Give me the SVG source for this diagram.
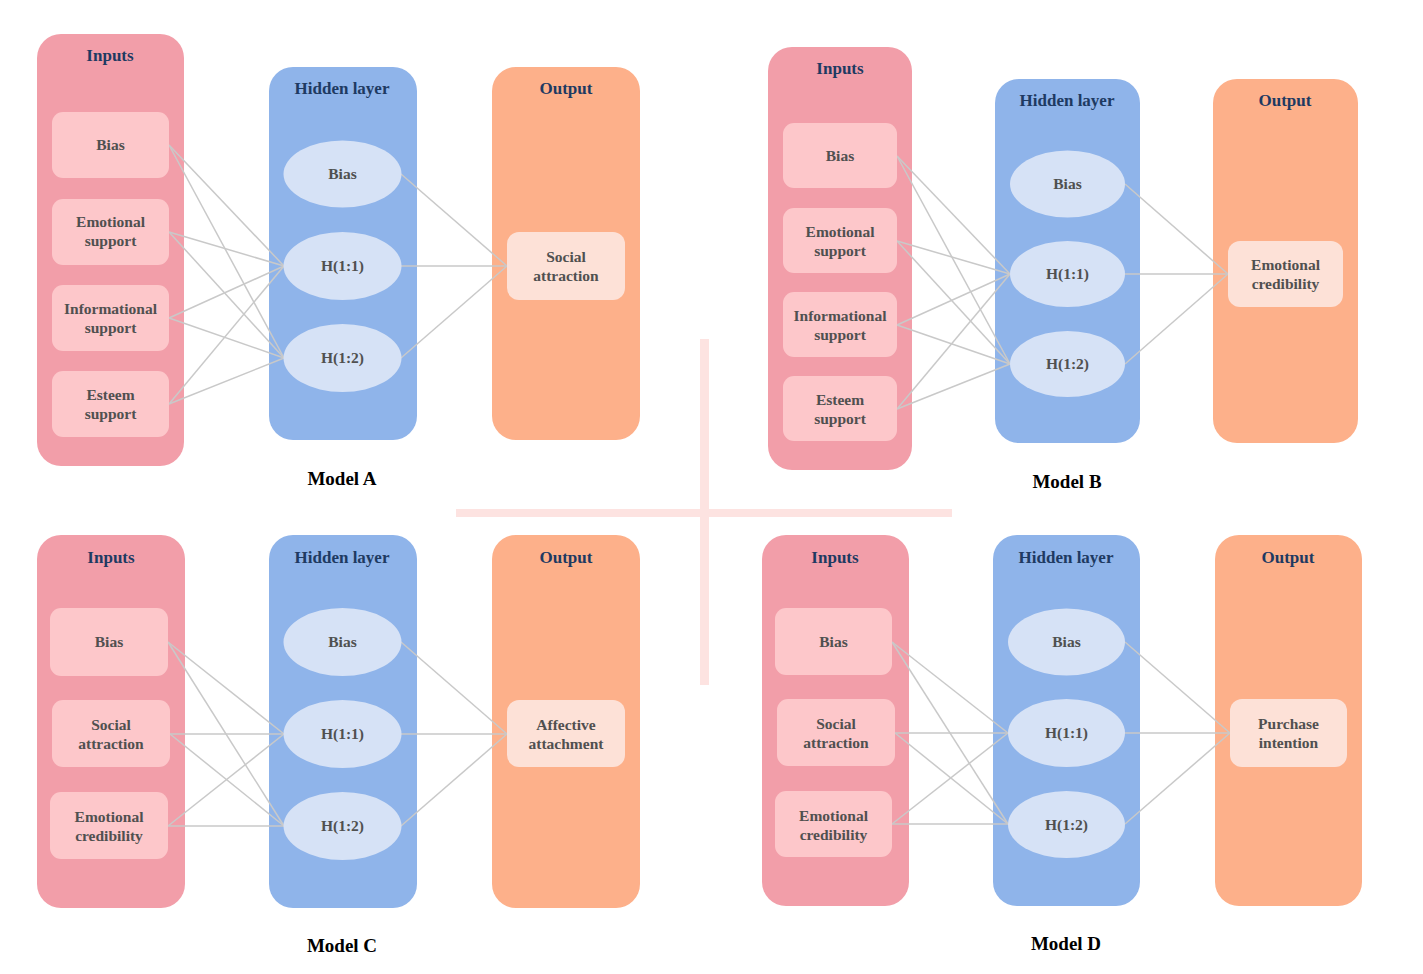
<svg xmlns="http://www.w3.org/2000/svg" width="1423" height="974" viewBox="0 0 1423 974">
<style>
.bg{fill:#ffffff}
.inC{fill:#f29ea9}
.hidC{fill:#8fb4ea}
.outC{fill:#fdb08a}
.inB{fill:#fdc7ca}
.ell{fill:#d6e2f6}
.outB{fill:#fde1d7}
.ttl{font-family:"Liberation Serif","Times New Roman",serif;font-weight:bold;font-size:17px;fill:#1e3a62;text-anchor:middle}
.lbl{font-family:"Liberation Serif","Times New Roman",serif;font-weight:bold;font-size:15.5px;fill:#505050;text-anchor:middle}
.mdl{font-family:"Liberation Serif","Times New Roman",serif;font-weight:bold;font-size:19px;fill:#000000;text-anchor:middle}
.cn{stroke:#c9c9c9;stroke-width:1.5;fill:none}
.cross{fill:#fde3e1}
</style>
<rect class="bg" x="0" y="0" width="1423" height="974"/>
<g id="divider">
<rect class="cross" x="700" y="339" width="9" height="346"/>
<rect class="cross" x="456" y="509" width="496" height="8"/>
</g>

<!-- Containers -->
<g id="modelA-inputs"><rect class="inC" x="37" y="34" width="147" height="432" rx="24"/><text class="ttl" x="110" y="61">Inputs</text></g>
<g id="modelA-hidden"><rect class="hidC" x="269" y="67" width="148" height="373" rx="24"/><text class="ttl" x="342" y="94">Hidden layer</text></g>
<g id="modelA-output"><rect class="outC" x="492" y="67" width="148" height="373" rx="24"/><text class="ttl" x="566" y="94">Output</text></g>

<g id="modelB-inputs"><rect class="inC" x="768" y="47" width="144" height="423" rx="24"/><text class="ttl" x="840" y="74">Inputs</text></g>
<g id="modelB-hidden"><rect class="hidC" x="995" y="79" width="145" height="364" rx="24"/><text class="ttl" x="1067" y="106">Hidden layer</text></g>
<g id="modelB-output"><rect class="outC" x="1213" y="79" width="145" height="364" rx="24"/><text class="ttl" x="1285" y="106">Output</text></g>

<g id="modelC-inputs"><rect class="inC" x="37" y="535" width="148" height="373" rx="24"/><text class="ttl" x="111" y="563">Inputs</text></g>
<g id="modelC-hidden"><rect class="hidC" x="269" y="535" width="148" height="373" rx="24"/><text class="ttl" x="342" y="563">Hidden layer</text></g>
<g id="modelC-output"><rect class="outC" x="492" y="535" width="148" height="373" rx="24"/><text class="ttl" x="566" y="563">Output</text></g>

<g id="modelD-inputs"><rect class="inC" x="762" y="535" width="147" height="371" rx="24"/><text class="ttl" x="835" y="563">Inputs</text></g>
<g id="modelD-hidden"><rect class="hidC" x="993" y="535" width="147" height="371" rx="24"/><text class="ttl" x="1066" y="563">Hidden layer</text></g>
<g id="modelD-output"><rect class="outC" x="1215" y="535" width="147" height="371" rx="24"/><text class="ttl" x="1288" y="563">Output</text></g>

<!-- Connectors -->
<g id="connectors">
<!-- Model A -->
<line class="cn" x1="169" y1="145" x2="284" y2="266"/>
<line class="cn" x1="169" y1="145" x2="284" y2="358"/>
<line class="cn" x1="169" y1="232" x2="284" y2="266"/>
<line class="cn" x1="169" y1="232" x2="284" y2="358"/>
<line class="cn" x1="169" y1="318" x2="284" y2="266"/>
<line class="cn" x1="169" y1="318" x2="284" y2="358"/>
<line class="cn" x1="169" y1="404" x2="284" y2="266"/>
<line class="cn" x1="169" y1="404" x2="284" y2="358"/>
<line class="cn" x1="401" y1="174" x2="507" y2="266"/>
<line class="cn" x1="401" y1="266" x2="507" y2="266"/>
<line class="cn" x1="401" y1="358" x2="507" y2="266"/>
<!-- Model B -->
<line class="cn" x1="897" y1="156" x2="1010" y2="274"/>
<line class="cn" x1="897" y1="156" x2="1010" y2="364"/>
<line class="cn" x1="897" y1="241" x2="1010" y2="274"/>
<line class="cn" x1="897" y1="241" x2="1010" y2="364"/>
<line class="cn" x1="897" y1="325" x2="1010" y2="274"/>
<line class="cn" x1="897" y1="325" x2="1010" y2="364"/>
<line class="cn" x1="897" y1="409" x2="1010" y2="274"/>
<line class="cn" x1="897" y1="409" x2="1010" y2="364"/>
<line class="cn" x1="1125" y1="184" x2="1228" y2="274"/>
<line class="cn" x1="1125" y1="274" x2="1228" y2="274"/>
<line class="cn" x1="1125" y1="364" x2="1228" y2="274"/>
<!-- Model C -->
<line class="cn" x1="168" y1="642" x2="284" y2="734"/>
<line class="cn" x1="168" y1="642" x2="284" y2="826"/>
<line class="cn" x1="170" y1="734" x2="284" y2="734"/>
<line class="cn" x1="170" y1="734" x2="284" y2="826"/>
<line class="cn" x1="168" y1="826" x2="284" y2="734"/>
<line class="cn" x1="168" y1="826" x2="284" y2="826"/>
<line class="cn" x1="401" y1="642" x2="507" y2="734"/>
<line class="cn" x1="401" y1="734" x2="507" y2="734"/>
<line class="cn" x1="401" y1="826" x2="507" y2="734"/>
<!-- Model D -->
<line class="cn" x1="892" y1="642" x2="1008" y2="733"/>
<line class="cn" x1="892" y1="642" x2="1008" y2="824"/>
<line class="cn" x1="895" y1="733" x2="1008" y2="733"/>
<line class="cn" x1="895" y1="733" x2="1008" y2="824"/>
<line class="cn" x1="892" y1="824" x2="1008" y2="733"/>
<line class="cn" x1="892" y1="824" x2="1008" y2="824"/>
<line class="cn" x1="1125" y1="642" x2="1230" y2="733"/>
<line class="cn" x1="1125" y1="733" x2="1230" y2="733"/>
<line class="cn" x1="1125" y1="824" x2="1230" y2="733"/>
</g>

<!-- Model A nodes -->
<g id="A-in-bias"><rect class="inB" x="52" y="112" width="117" height="66" rx="11"/><text class="lbl" x="110.5" y="150">Bias</text></g>
<g id="A-in-emo"><rect class="inB" x="52" y="199" width="117" height="66" rx="11"/><text class="lbl" x="110.5" y="227">Emotional</text><text class="lbl" x="110.5" y="246">support</text></g>
<g id="A-in-info"><rect class="inB" x="52" y="285" width="117" height="66" rx="11"/><text class="lbl" x="110.5" y="314">Informational</text><text class="lbl" x="110.5" y="333">support</text></g>
<g id="A-in-esteem"><rect class="inB" x="52" y="371" width="117" height="66" rx="11"/><text class="lbl" x="110.5" y="400">Esteem</text><text class="lbl" x="110.5" y="419">support</text></g>
<g id="A-h-bias"><ellipse class="ell" cx="342.5" cy="174" rx="59" ry="33.5"/><text class="lbl" x="342.5" y="179">Bias</text></g>
<g id="A-h-11"><ellipse class="ell" cx="342.5" cy="266" rx="59" ry="34"/><text class="lbl" x="342.5" y="271">H(1:1)</text></g>
<g id="A-h-12"><ellipse class="ell" cx="342.5" cy="358" rx="59" ry="34"/><text class="lbl" x="342.5" y="363">H(1:2)</text></g>
<g id="A-out"><rect class="outB" x="507" y="232" width="118" height="68" rx="12"/><text class="lbl" x="566" y="262">Social</text><text class="lbl" x="566" y="281">attraction</text></g>
<text class="mdl" x="342" y="485">Model A</text>

<!-- Model B nodes -->
<g id="B-in-bias"><rect class="inB" x="783" y="123" width="114" height="65" rx="11"/><text class="lbl" x="840" y="161">Bias</text></g>
<g id="B-in-emo"><rect class="inB" x="783" y="208" width="114" height="65" rx="11"/><text class="lbl" x="840" y="237">Emotional</text><text class="lbl" x="840" y="256">support</text></g>
<g id="B-in-info"><rect class="inB" x="783" y="292" width="114" height="65" rx="11"/><text class="lbl" x="840" y="321">Informational</text><text class="lbl" x="840" y="340">support</text></g>
<g id="B-in-esteem"><rect class="inB" x="783" y="376" width="114" height="65" rx="11"/><text class="lbl" x="840" y="405">Esteem</text><text class="lbl" x="840" y="424">support</text></g>
<g id="B-h-bias"><ellipse class="ell" cx="1067.5" cy="184" rx="57.5" ry="33.5"/><text class="lbl" x="1067.5" y="189">Bias</text></g>
<g id="B-h-11"><ellipse class="ell" cx="1067.5" cy="274" rx="57.5" ry="33"/><text class="lbl" x="1067.5" y="279">H(1:1)</text></g>
<g id="B-h-12"><ellipse class="ell" cx="1067.5" cy="364" rx="57.5" ry="33"/><text class="lbl" x="1067.5" y="369">H(1:2)</text></g>
<g id="B-out"><rect class="outB" x="1228" y="241" width="115" height="66" rx="12"/><text class="lbl" x="1285.5" y="270">Emotional</text><text class="lbl" x="1285.5" y="289">credibility</text></g>
<text class="mdl" x="1067" y="488">Model B</text>

<!-- Model C nodes -->
<g id="C-in-bias"><rect class="inB" x="50" y="608" width="118" height="68" rx="11"/><text class="lbl" x="109" y="647">Bias</text></g>
<g id="C-in-social"><rect class="inB" x="52" y="700" width="118" height="67" rx="11"/><text class="lbl" x="111" y="730">Social</text><text class="lbl" x="111" y="749">attraction</text></g>
<g id="C-in-emocred"><rect class="inB" x="50" y="792" width="118" height="67" rx="11"/><text class="lbl" x="109" y="822">Emotional</text><text class="lbl" x="109" y="841">credibility</text></g>
<g id="C-h-bias"><ellipse class="ell" cx="342.5" cy="642" rx="59" ry="34"/><text class="lbl" x="342.5" y="647">Bias</text></g>
<g id="C-h-11"><ellipse class="ell" cx="342.5" cy="734" rx="59" ry="34"/><text class="lbl" x="342.5" y="739">H(1:1)</text></g>
<g id="C-h-12"><ellipse class="ell" cx="342.5" cy="826" rx="59" ry="34"/><text class="lbl" x="342.5" y="831">H(1:2)</text></g>
<g id="C-out"><rect class="outB" x="507" y="700" width="118" height="67" rx="12"/><text class="lbl" x="566" y="730">Affective</text><text class="lbl" x="566" y="749">attachment</text></g>
<text class="mdl" x="342" y="952">Model C</text>

<!-- Model D nodes -->
<g id="D-in-bias"><rect class="inB" x="775" y="608" width="117" height="67" rx="11"/><text class="lbl" x="833.5" y="647">Bias</text></g>
<g id="D-in-social"><rect class="inB" x="777" y="699" width="118" height="67" rx="11"/><text class="lbl" x="836" y="729">Social</text><text class="lbl" x="836" y="748">attraction</text></g>
<g id="D-in-emocred"><rect class="inB" x="775" y="791" width="117" height="66" rx="11"/><text class="lbl" x="833.5" y="821">Emotional</text><text class="lbl" x="833.5" y="840">credibility</text></g>
<g id="D-h-bias"><ellipse class="ell" cx="1066.5" cy="642" rx="58.5" ry="33.5"/><text class="lbl" x="1066.5" y="647">Bias</text></g>
<g id="D-h-11"><ellipse class="ell" cx="1066.5" cy="733" rx="58.5" ry="34"/><text class="lbl" x="1066.5" y="738">H(1:1)</text></g>
<g id="D-h-12"><ellipse class="ell" cx="1066.5" cy="824.5" rx="58.5" ry="33.5"/><text class="lbl" x="1066.5" y="830">H(1:2)</text></g>
<g id="D-out"><rect class="outB" x="1230" y="699" width="117" height="68" rx="12"/><text class="lbl" x="1288.5" y="729">Purchase</text><text class="lbl" x="1288.5" y="748">intention</text></g>
<text class="mdl" x="1066" y="950">Model D</text>
</svg>
